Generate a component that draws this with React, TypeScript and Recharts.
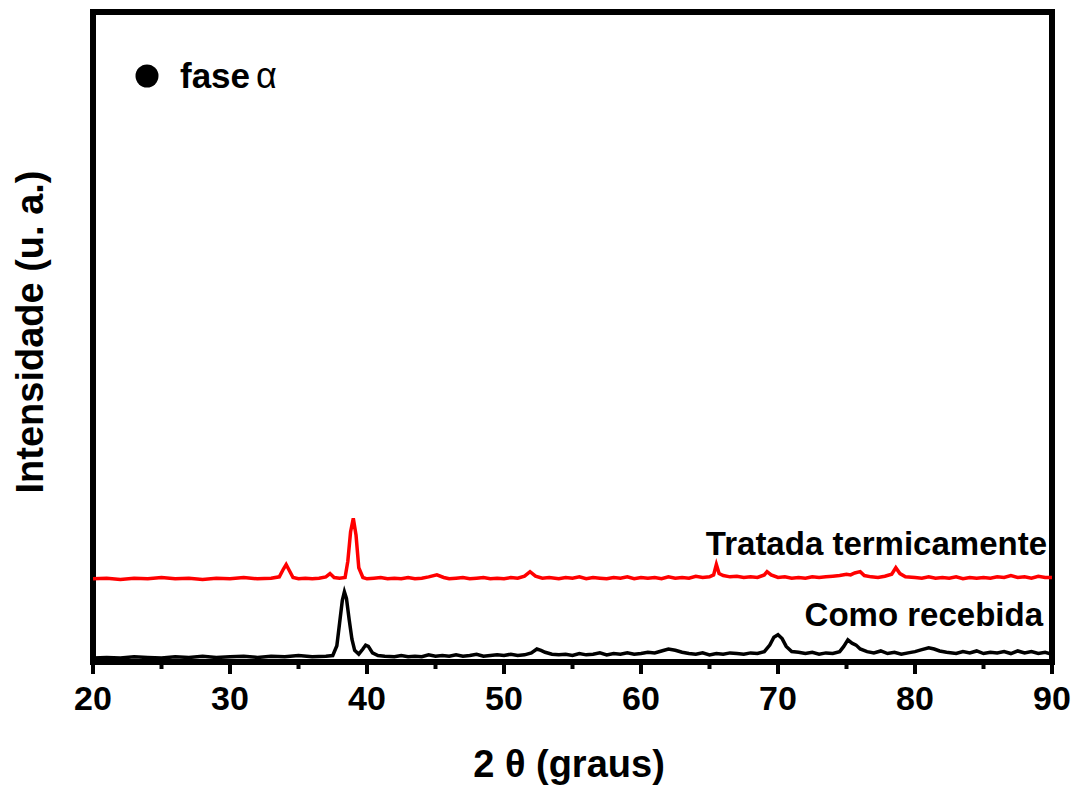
import { LineChart, Line, XAxis, YAxis, ReferenceArea } from "recharts";

const anguloComo = [
  20, 21, 22, 23, 24, 25, 26, 27, 28, 29, 30, 31, 32, 33, 34, 35, 36, 37, 37.5,
  37.8, 38.0, 38.2, 38.35, 38.5, 38.7, 38.9, 39.1, 39.4, 39.7, 39.9, 40.1, 40.4,
  40.8, 41.3, 42, 42.5, 43, 43.5, 44, 44.5, 45, 45.5, 46, 46.5, 47, 47.5, 48,
  48.5, 49, 49.5, 50, 50.5, 51, 51.5, 52, 52.4, 52.7, 53, 53.5, 54, 54.5, 55,
  55.5, 56, 56.5, 57, 57.5, 58, 58.5, 59, 59.5, 60, 60.5, 61, 61.5, 62, 62.5, 63,
  63.5, 64, 64.5, 65, 65.5, 66, 66.5, 67, 67.5, 68, 68.5, 69, 69.4, 69.7, 70.0,
  70.3, 70.6, 71, 71.5, 72, 72.5, 73, 73.5, 74, 74.5, 74.8, 75.1, 75.4, 75.7, 76,
  76.5, 77, 77.5, 78, 78.5, 79, 79.5, 80, 80.5, 81, 81.4, 81.8, 82.3, 83, 83.5,
  84, 84.5, 85, 85.5, 86, 86.5, 87, 87.5, 88, 88.5, 89, 89.5, 90,
];
const intensComo = [
  0.6, 0.7, 0.6, 0.8, 0.7, 0.6, 0.8, 0.7, 0.9, 0.7, 0.8, 0.9, 0.7, 0.9, 0.8, 1.0,
  0.8, 0.9, 1.0, 2.5, 6.0, 9.5, 10.8, 9.8, 6.5, 3.5, 1.8, 1.2, 2.0, 2.6, 2.4, 1.4,
  1.0, 0.9, 0.8, 1.0, 0.8, 0.9, 0.8, 1.1, 0.9, 1.0, 0.9, 1.1, 0.9, 1.0, 1.2, 0.9,
  1.0, 1.1, 1.0, 1.2, 1.0, 1.1, 1.4, 2.0, 1.8, 1.5, 1.2, 1.1, 1.2, 1.0, 1.3, 1.1,
  1.2, 1.4, 1.1, 1.3, 1.2, 1.4, 1.2, 1.3, 1.5, 1.4, 1.7, 2.0, 1.8, 1.5, 1.3, 1.2,
  1.4, 1.1, 1.3, 1.2, 1.4, 1.3, 1.2, 1.4, 1.3, 1.6, 2.6, 3.8, 4.2, 3.6, 2.4, 1.6,
  1.5, 1.3, 1.5, 1.2, 1.4, 1.3, 1.6, 2.4, 3.4, 2.9, 2.6, 2.0, 1.6, 1.4, 1.7, 1.3,
  1.5, 1.2, 1.4, 1.6, 1.9, 2.2, 2.0, 1.7, 1.5, 1.3, 1.6, 1.4, 1.7, 1.3, 1.5, 1.4,
  1.6, 1.3, 1.7, 1.4, 1.6, 1.3, 1.5, 1.2,
];

const anguloTratada = [
  20, 21, 22, 23, 24, 25, 26, 27, 28, 29, 30, 31, 32, 33, 33.6, 33.9, 34.1, 34.3,
  34.6, 35, 35.5, 36, 36.5, 37, 37.3, 37.6, 38, 38.4, 38.6, 38.8, 39.0, 39.2,
  39.4, 39.7, 40, 40.5, 41, 41.5, 42, 42.5, 43, 43.5, 44, 44.5, 45.1, 45.6, 46,
  46.5, 47, 47.5, 48, 48.5, 49, 49.5, 50, 50.5, 51, 51.5, 51.9, 52.3, 52.8, 53.3,
  54, 54.5, 55, 55.5, 56, 56.5, 57, 57.5, 58, 58.5, 59, 59.5, 60, 60.5, 61, 61.5,
  62, 62.5, 63, 63.5, 64, 64.5, 65, 65.3, 65.5, 65.7, 66, 66.5, 67, 67.5, 68,
  68.5, 69, 69.2, 69.5, 70, 70.5, 71, 71.5, 72, 72.5, 73, 73.5, 74, 74.5, 75,
  75.3, 75.6, 76.0, 76.3, 76.8, 77.3, 77.8, 78.3, 78.6, 78.9, 79.3, 80, 80.5, 81,
  81.5, 82, 82.5, 83, 83.5, 84, 84.5, 85, 85.5, 86, 86.5, 87, 87.5, 88, 88.5, 89,
  89.5, 90,
];
const intensTratada = [
  12.8, 12.9, 12.7, 12.9, 12.8, 13.0, 12.8, 12.9, 12.7, 12.9, 12.8, 13.0, 12.8,
  12.9, 13.1, 14.3, 15.0, 14.2, 13.0, 12.8, 12.9, 12.8, 12.9, 13.1, 13.6, 13.0,
  12.9, 13.0, 15.5, 20.0, 22.1, 19.5, 14.5, 13.0, 12.8, 12.9, 13.0, 12.8, 12.9,
  12.8, 13.0, 12.8, 12.9, 13.1, 13.4, 13.0, 12.8, 12.9, 13.0, 12.8, 12.9, 13.0,
  12.8, 12.9, 12.8, 13.0, 12.9, 13.2, 13.9, 13.2, 12.9, 13.0, 12.8, 13.0, 12.9,
  13.1, 12.8, 13.0, 12.9, 12.8, 13.0, 12.9, 13.1, 12.8, 13.0, 12.9, 13.0, 12.8,
  13.1, 12.9, 13.0, 12.9, 13.2, 13.0, 13.1, 13.4, 15.0, 13.6, 13.3, 13.1, 13.2,
  13.0, 13.1, 13.0, 13.4, 13.9, 13.4, 13.0, 13.1, 12.9, 13.0, 12.9, 13.1, 13.0,
  13.1, 13.2, 13.3, 13.5, 13.4, 13.7, 13.9, 13.3, 13.1, 13.0, 13.2, 13.5, 14.5,
  13.6, 13.1, 13.0, 12.9, 13.1, 12.9, 13.0, 12.9, 13.1, 12.8, 13.0, 12.9, 13.0,
  12.9, 13.1, 13.0, 13.3, 13.0, 13.1, 12.9, 13.2, 13.0, 13.0,
];

const xTicks = [20, 25, 30, 35, 40, 45, 50, 55, 60, 65, 70, 75, 80, 85, 90];

const comoData = anguloComo.map((a, i) => ({ a, v: intensComo[i] }));
const tratadaData = anguloTratada.map((a, i) => ({ a, v: intensTratada[i] }));

const font = "'Liberation Sans', Arial, sans-serif";

const Tick = (props: any) => {
  const { x, y, payload } = props;
  const major = payload.value % 10 === 0;
  return (
    <g>
      <line x1={x} x2={x} y1={y} y2={y + (major ? 12 : 7)} stroke="#000" strokeWidth={4} />
      {major && (
        <text x={x} y={y + 48} textAnchor="middle" fontFamily={font} fontWeight="bold" fontSize={34} fill="#000">
          {payload.value}
        </text>
      )}
    </g>
  );
};

export default function App() {
  return (
    <div style={{ position: "absolute", left: 0, top: 0, width: 1081, height: 789, background: "#fff" }}>
      <LineChart width={1081} height={789} margin={{ top: 12, right: 29, left: 93, bottom: 67 }}>
        <XAxis
          type="number"
          dataKey="a"
          domain={[20, 90]}
          ticks={xTicks}
          allowDataOverflow
          axisLine={false}
          tickLine={false}
          tickSize={0}
          tickMargin={0}
          height={60}
          tick={<Tick />}
          interval={0}
        />
        <YAxis type="number" domain={[0, 100]} hide allowDataOverflow />
        <Line data={comoData} dataKey="v" stroke="#000" strokeWidth={3.5} dot={false} isAnimationActive={false} />
        <Line data={tratadaData} dataKey="v" stroke="#ff0000" strokeWidth={3.5} dot={false} isAnimationActive={false} />
        <ReferenceArea x1={20} x2={90} y1={0} y2={100} fill="none" stroke="#000" strokeWidth={6} />
      </LineChart>
      <svg width={1081} height={789} style={{ position: "absolute", left: 0, top: 0, pointerEvents: "none" }}>
        <circle cx={147} cy={76} r={11.5} fill="#000" />
        <text x={180} y={88} fontFamily={font} fontWeight="bold" fontSize={35} fill="#000">
          fase
          <tspan fontWeight="normal" fontSize={36} dx={6}>α</tspan>
        </text>
        <text x={1047} y={555} textAnchor="end" fontFamily={font} fontWeight="bold" fontSize={33} fill="#000">
          Tratada termicamente
        </text>
        <text x={1043} y={626} textAnchor="end" fontFamily={font} fontWeight="bold" fontSize={33} fill="#000">
          Como recebida
        </text>
        <text transform="translate(43,332) rotate(-90)" textAnchor="middle" fontFamily={font} fontWeight="bold" fontSize={38} fill="#000">
          Intensidade (u. a.)
        </text>
        <text x={569} y={777} textAnchor="middle" fontFamily={font} fontWeight="bold" fontSize={38} fill="#000">
          2 θ (graus)
        </text>
      </svg>
    </div>
  );
}
